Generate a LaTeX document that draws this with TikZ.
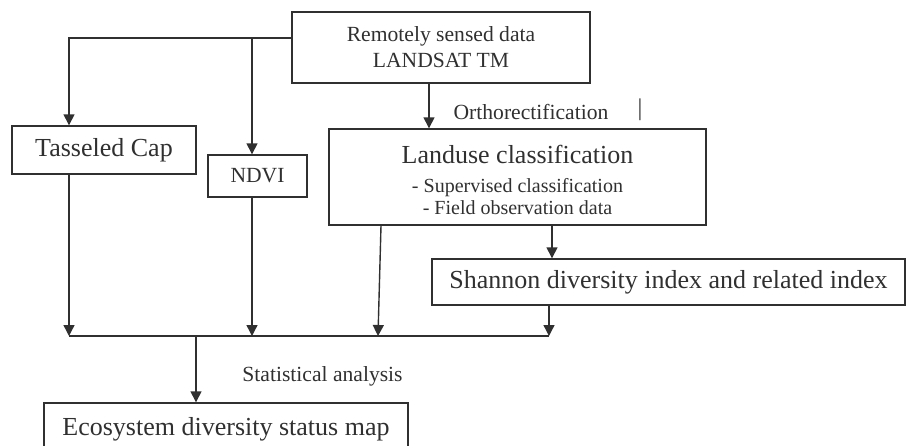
\documentclass[tikz,border=0pt]{standalone}
\usepackage{fontspec}
\setmainfont{Liberation Serif}
\usetikzlibrary{calc, arrows.meta}
\definecolor{ink}{HTML}{303030}
\newcommand{\bigtxt}{\fontsize{26}{30}\selectfont}
\newcommand{\midtxt}{\fontsize{21.6}{26}\selectfont}
\newcommand{\smalltxt}{\fontsize{20}{22}\selectfont}

\begin{document}
\begin{tikzpicture}[x=1pt, y=-1pt, line width=1.4pt, draw=ink, text=ink,
    box/.style={draw, rectangle, inner sep=0pt},
    arr/.style={-{Triangle[width=11pt,length=11pt]}}]
                \clip (0,0) rectangle (906,445);
                % boxes
                \node[box, minimum width=298, minimum height=71, align=center, font=\midtxt] (data) at (441,47.5) {Remotely sensed data\\LANDSAT TM};
                \node[box, minimum width=184, minimum height=48, font=\bigtxt] (tc) at (104,150) {Tasseled Cap};
                \node[box, minimum width=99, minimum height=42, font=\midtxt] (ndvi) at (257.5,176) {NDVI};
                \node[box, minimum width=377, minimum height=96, align=center, font=\smalltxt] (landuse) at (517.5,177) {{\bigtxt\rule{0pt}{24pt}Landuse classification}\\[7.5pt]- Supervised classification\\- Field observation data};
                \node[box, minimum width=473, minimum height=46, font=\bigtxt] (shannon) at (668.5,282) {Shannon diversity index and related index};
                \node[box, minimum width=364, minimum height=52, font=\bigtxt] (eco) at (226,429) {Ecosystem diversity status map};
                % labels
                \node[font=\midtxt] (ortho) at (531,112) {Orthorectification};
                \node[font=\fontsize{24}{26}\selectfont] (bar) at (640,110) {|};
                \node[font=\midtxt] (stat) at (322.5,376) {Statistical analysis};
                % connectors
                \coordinate (hline) at ([yshift=9.5pt]data.west);
                \coordinate (bus) at (0,336);
                \draw[arr] (hline) -| ([xshift=-35pt]tc.north);
                \draw[arr] ([xshift=-5.5pt]ndvi.north |- hline) -- ([xshift=-5.5pt]ndvi.north);
                \draw[arr] ([xshift=-12pt]data.south) -- ([xshift=-12pt]data.south |- landuse.north);
                \draw[arr] ([xshift=34.5pt]landuse.south) -- ([xshift=34.5pt]landuse.south |- shannon.north);
                \foreach \n/\dx in {tc/-35, ndvi/-5.5, shannon/-119.5}{
                    \draw[arr] ([xshift=\dx pt]\n.south) -- ([xshift=\dx pt]\n.south |- bus);
                }
                \draw[arr] ([xshift=-136.5pt]landuse.south) -- ([xshift=-139.5pt]landuse.south |- bus);
                \draw ([xshift=-35pt]tc.south |- bus) -- ([xshift=-119.5pt]shannon.south |- bus);
                \draw[arr] ([xshift=-30pt]eco.north |- bus) -- ([xshift=-30pt]eco.north);
            \end{tikzpicture}
\end{document}
